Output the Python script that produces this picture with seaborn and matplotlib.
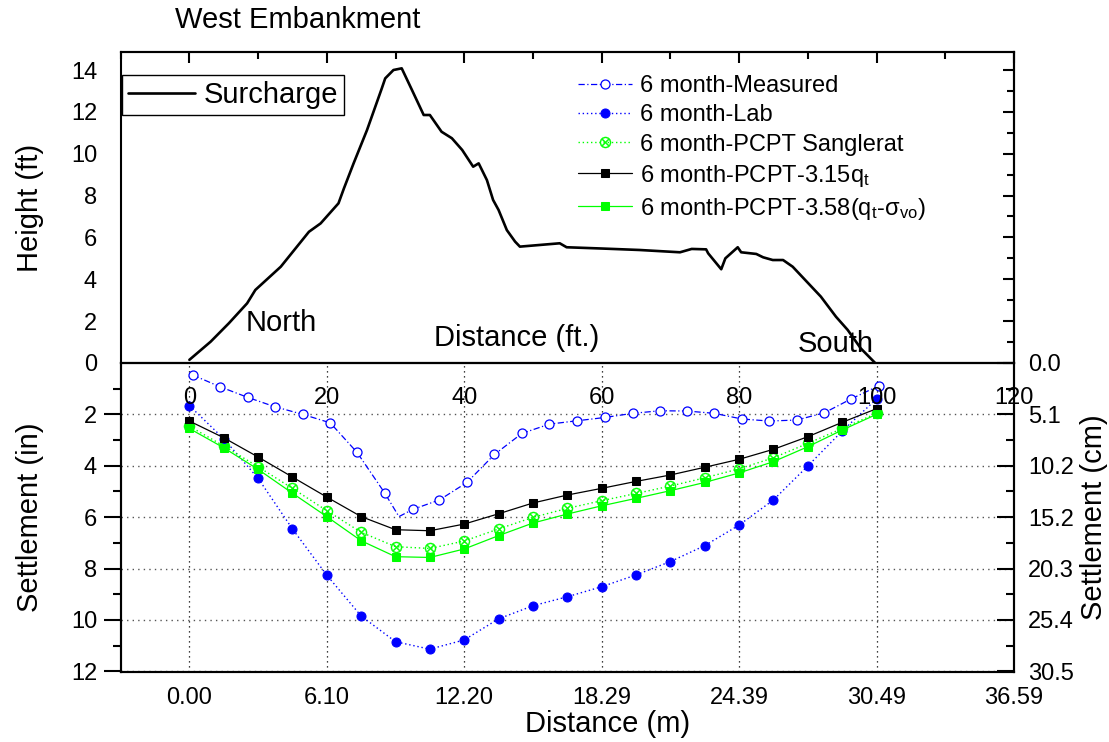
import matplotlib
matplotlib.use("Agg")
import matplotlib.pyplot as plt
from matplotlib.ticker import MultipleLocator, NullFormatter, FixedLocator
import seaborn as sns

# ---------------- data ----------------
# Surcharge profile (distance ft, height ft)
surcharge_x = [0.0, 3.1, 5.75, 8.4, 9.6, 13.3, 17.4, 19.1, 21.7, 22.5, 23.9, 25.85, 28.0, 28.5,
               29.7, 30.9, 32.4, 34.1, 35.0, 36.7, 38.2, 39.7, 41.3, 42.1, 43.3, 44.2, 45.0, 46.2,
               47.4, 48.1, 53.9, 54.9, 60.0, 65.5, 71.4, 73.1, 75.2, 75.5, 77.4, 78.0, 79.8, 80.3,
               82.5, 83.5, 84.9, 86.4, 87.8, 91.9, 94.1, 95.8, 97.7, 99.8]
surcharge_h = [0.15, 1.02, 1.9, 2.85, 3.49, 4.6, 6.27, 6.67, 7.63, 8.35, 9.54, 11.13, 13.12, 13.6,
               14.0, 14.08, 13.04, 11.85, 11.85, 11.05, 10.74, 10.18, 9.38, 9.54, 8.74, 7.79, 7.31, 6.35,
               5.8, 5.56, 5.72, 5.53, 5.47, 5.4, 5.29, 5.45, 5.43, 5.24, 4.48, 5.0, 5.53, 5.29,
               5.21, 5.05, 4.92, 4.92, 4.6, 3.17, 2.21, 1.58, 0.70, 0.0]

# Settlement (in) vs distance (ft)
measured_x = [0.5, 4.5, 8.5, 12.4, 16.5, 20.5, 24.4, 28.4, 30.5, 32.5, 36.4, 40.4, 44.4, 48.4,
              52.4, 56.4, 60.5, 64.5, 68.5, 72.4, 76.4, 80.4, 84.4, 88.4, 92.4, 96.3, 100.3]
measured_y = [0.47, 0.93, 1.34, 1.70, 2.00, 2.33, 3.48, 5.05, 5.98, 5.70, 5.33, 4.65, 3.56, 2.74,
              2.38, 2.25, 2.12, 1.96, 1.86, 1.87, 1.96, 2.18, 2.26, 2.22, 1.94, 1.40, 0.89]

pcpt_x = [0, 5, 10, 15, 20, 25, 30, 35, 40, 45, 50, 55, 60, 65, 70, 75, 80, 85, 90, 95, 100]
lab_y = [1.66, 2.95, 4.49, 6.46, 8.26, 9.85, 10.85, 11.14, 10.78, 9.96, 9.45, 9.10, 8.71, 8.25,
         7.73, 7.11, 6.31, 5.33, 4.01, 2.65, 1.40]
sanglerat_y = [2.46, 3.23, 4.04, 4.88, 5.75, 6.59, 7.15, 7.22, 6.93, 6.46, 6.01, 5.66, 5.36, 5.08,
               4.79, 4.47, 4.12, 3.69, 3.13, 2.55, 1.96]
pcpt315_y = [2.26, 2.91, 3.66, 4.44, 5.22, 5.98, 6.49, 6.53, 6.27, 5.87, 5.45, 5.14, 4.88, 4.61,
             4.36, 4.06, 3.75, 3.36, 2.87, 2.31, 1.78]
pcpt358_y = [2.55, 3.30, 4.14, 5.07, 5.98, 6.92, 7.54, 7.57, 7.24, 6.72, 6.23, 5.88, 5.56, 5.27,
             4.97, 4.65, 4.28, 3.84, 3.26, 2.61, 2.00]

ft_ticks = [0, 20, 40, 60, 80, 100, 120]
ft_tick_labels = ["0", "20", "40", "60", "80", "100", "120"]
m_tick_labels = ["0.00", "6.10", "12.20", "18.29", "24.39", "30.49", "36.59"]
height_ticks = [0, 2, 4, 6, 8, 10, 12, 14]
settle_ticks = [2, 4, 6, 8, 10, 12]
cm_ticks_in = [0, 2, 4, 6, 8, 10, 12]
cm_tick_labels = ["0.0", "5.1", "10.2", "15.2", "20.3", "25.4", "30.5"]

labels = ["6 month-Measured", "6 month-Lab", "6 month-PCPT Sanglerat",
          r"6 month-PCPT-3.15q$_t$", r"6 month-PCPT-3.58(q$_t$-$\sigma_{vo}$)"]

# ---------------- style ----------------
sns.set_theme(style="white")
plt.rcParams["font.family"] = ["Liberation Sans", "DejaVu Sans"]
plt.rcParams["mathtext.fontset"] = "custom"
plt.rcParams["mathtext.rm"] = "Liberation Sans"
plt.rcParams["mathtext.it"] = "Liberation Sans:italic"
plt.rcParams["mathtext.bf"] = "Liberation Sans:bold"
plt.rcParams["mathtext.default"] = "regular"
plt.rcParams["axes.edgecolor"] = "black"
plt.rcParams["axes.linewidth"] = 1.5
plt.rcParams["xtick.color"] = "black"
plt.rcParams["ytick.color"] = "black"
plt.rcParams["text.color"] = "black"
plt.rcParams["axes.labelcolor"] = "black"

BLUE = "#0000FF"
GREEN = "#00FF00"
TICK_FS = 17
LABEL_FS = 21

fig = plt.figure(figsize=(11.09, 7.42), dpi=100)
ax_bot = fig.add_axes([0.1088, 0.0943, 0.8055, 0.4165])
ax_top = fig.add_axes([0.1088, 0.5108, 0.8055, 0.4191])
ax_top.patch.set_alpha(0)

# ---------------- top panel ----------------
sns.lineplot(x=surcharge_x, y=surcharge_h, ax=ax_top, color="black", lw=1.9,
             label="Surcharge", sort=False)
ax_top.set_xlim(-10, 120)
ax_top.set_ylim(0, 14.86)
ax_top.set_xticks(ft_ticks)
ax_top.set_xticklabels(ft_tick_labels)
ax_top.xaxis.set_minor_locator(MultipleLocator(10))
ax_top.set_yticks(height_ticks)
ax_top.yaxis.set_minor_locator(MultipleLocator(1))
ax_top.tick_params(axis="both", which="major", direction="out", length=12, width=1.5,
                   labelsize=TICK_FS)
ax_top.tick_params(axis="both", which="minor", direction="out", length=6, width=1.5)
ax_top.tick_params(axis="x", which="major", pad=5)
ax_top.tick_params(axis="y", which="major", pad=5)
ax_top.set_xlabel("")
ax_top.set_ylabel("Height (ft)", fontsize=LABEL_FS)
ax_top.yaxis.set_label_coords(-0.086, 0.5)

sec_top = ax_top.secondary_xaxis("top")
sec_top.set_xticks(ft_ticks)
sec_top.xaxis.set_minor_locator(MultipleLocator(10))
sec_top.xaxis.set_major_formatter(NullFormatter())
sec_top.tick_params(axis="x", which="major", direction="in", length=8, width=1.5)
sec_top.tick_params(axis="x", which="minor", direction="in", length=5, width=1.5)
sec_right = ax_top.secondary_yaxis("right")
sec_right.set_yticks(height_ticks)
sec_right.yaxis.set_minor_locator(MultipleLocator(1))
sec_right.yaxis.set_major_formatter(NullFormatter())
sec_right.tick_params(axis="y", which="major", direction="in", length=8, width=1.5)
sec_right.tick_params(axis="y", which="minor", direction="in", length=5, width=1.5)

ax_top.text(13.3, 1.93, "North", fontsize=LABEL_FS, ha="center", va="center")
ax_top.text(94.1, 0.91, "South", fontsize=LABEL_FS, ha="center", va="center")
ax_top.text(47.6, 1.19, "Distance (ft.)", fontsize=LABEL_FS, ha="center", va="center")

leg1 = ax_top.legend(loc="upper left", bbox_to_anchor=(0.0015, 0.926), borderaxespad=0,
                     fontsize=LABEL_FS, frameon=True, fancybox=False, edgecolor="black",
                     framealpha=1, borderpad=0.2, handlelength=2.3, handletextpad=0.3)
leg1.get_frame().set_linewidth(1.0)

# ---------------- bottom panel ----------------
sns.lineplot(x=measured_x, y=measured_y, ax=ax_bot, color=BLUE, lw=0.9,
             linestyle=(0, (5, 2, 1, 2)), marker="o", markersize=6.5,
             markerfacecolor="white", markeredgecolor=BLUE, markeredgewidth=0.9,
             markevery=[i for i in range(len(measured_x)) if i != 8],
             label=labels[0], sort=False)
sns.lineplot(x=pcpt_x, y=lab_y, ax=ax_bot, color=BLUE, lw=1.0, linestyle=(0, (1, 2)),
             marker="o", markersize=6.5, markerfacecolor=BLUE, markeredgecolor=BLUE,
             label=labels[1], sort=False)
sns.lineplot(x=pcpt_x, y=sanglerat_y, ax=ax_bot, color=GREEN, lw=1.0, linestyle=(0, (1, 2)),
             marker=r"$\otimes$", markersize=8, markerfacecolor=GREEN, markeredgecolor=GREEN,
             markeredgewidth=0.3, label=labels[2], sort=False)
sns.lineplot(x=pcpt_x, y=pcpt315_y, ax=ax_bot, color="black", lw=0.9, linestyle="-",
             marker="s", markersize=6, markerfacecolor="black", markeredgecolor="black",
             label=labels[3], sort=False)
sns.lineplot(x=pcpt_x, y=pcpt358_y, ax=ax_bot, color=GREEN, lw=0.9, linestyle="-",
             marker="s", markersize=6, markerfacecolor=GREEN, markeredgecolor=GREEN,
             label=labels[4], sort=False)

handles, hlabels = ax_bot.get_legend_handles_labels()
if ax_bot.get_legend() is not None:
    ax_bot.get_legend().remove()

ax_bot.set_xlim(-10, 120)
ax_bot.set_ylim(12.03, 0)
ax_bot.set_xticks(ft_ticks)
ax_bot.set_xticklabels(m_tick_labels)
ax_bot.xaxis.set_minor_locator(MultipleLocator(10))
ax_bot.set_yticks(settle_ticks)
ax_bot.yaxis.set_minor_locator(FixedLocator([1, 3, 5, 7, 9, 11]))
ax_bot.tick_params(axis="x", which="major", direction="in", length=12, width=1.5,
                   labelsize=TICK_FS, pad=11)
ax_bot.tick_params(axis="x", which="minor", direction="in", length=6, width=1.5)
ax_bot.tick_params(axis="y", which="major", direction="out", length=12, width=1.5,
                   labelsize=TICK_FS, pad=5)
ax_bot.tick_params(axis="y", which="minor", direction="out", length=6, width=1.5)
ax_bot.set_axisbelow(True)
ax_bot.xaxis.grid(True, which="major", color="black", linestyle=(0, (1, 3)), lw=0.9)
ax_bot.yaxis.grid(True, which="major", color="#555555", linestyle=(0, (1, 3)), lw=1.0)
ax_bot.set_xlabel("Distance (m)", fontsize=LABEL_FS)
ax_bot.xaxis.set_label_coords(0.545, -0.124)
ax_bot.set_ylabel("Settlement (in)", fontsize=LABEL_FS)
ax_bot.yaxis.set_label_coords(-0.086, 0.5)

ax_r = ax_bot.twinx()
ax_r.set_ylim(12.03, 0)
ax_r.set_yticks(cm_ticks_in)
ax_r.set_yticklabels(cm_tick_labels)
ax_r.yaxis.set_minor_locator(FixedLocator([1, 3, 5, 7, 9, 11]))
ax_r.tick_params(axis="y", which="major", direction="in", length=12, width=1.5,
                 labelsize=TICK_FS, pad=10)
ax_r.tick_params(axis="y", which="minor", direction="in", length=6, width=1.5)
ax_r.set_ylabel("Settlement (cm)", fontsize=LABEL_FS)
ax_r.yaxis.set_label_coords(1.074, 0.5)
for sp in ax_r.spines.values():
    sp.set_linewidth(1.5)

# settlement legend drawn on the upper panel
leg2 = ax_top.legend(handles, hlabels, loc="upper left", bbox_to_anchor=(0.512, 0.925),
                     borderaxespad=0, borderpad=0, frameon=False, fontsize=17, numpoints=1,
                     handlelength=2.3, handletextpad=0.34, labelspacing=0.3)
ax_top.add_artist(leg1)

fig.text(175 / 1109, 1 - 20 / 742, "West Embankment", fontsize=LABEL_FS, ha="left", va="center")

fig.savefig("out.png", dpi=100)
